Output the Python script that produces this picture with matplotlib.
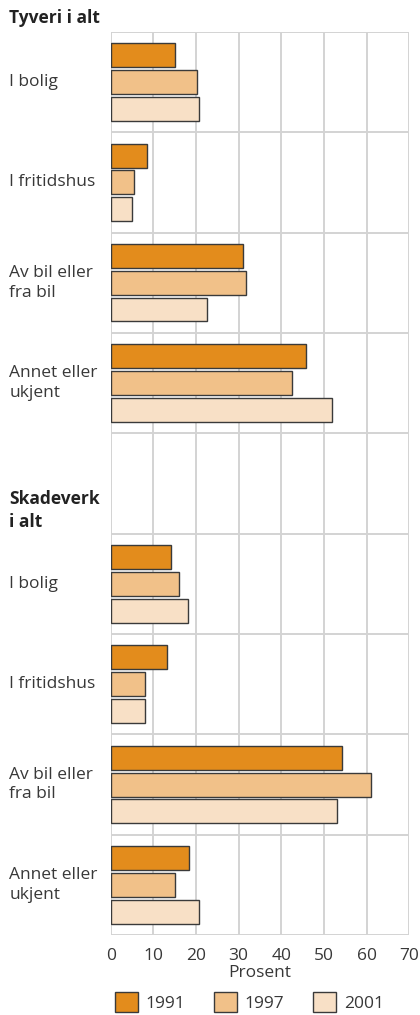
import matplotlib
matplotlib.use("Agg")
import matplotlib.pyplot as plt
import matplotlib.transforms as mtransforms
from matplotlib.patches import Patch
import numpy as np

plt.rcParams['font.family'] = ['Open Sans', 'DejaVu Sans']

# rader ovenfra og ned (None = overskriftsrad uten stolper)
categories = ['I bolig', 'I fritidshus', 'Av bil eller\nfra bil', 'Annet eller\nukjent',
              None,
              'I bolig', 'I fritidshus', 'Av bil eller\nfra bil', 'Annet eller\nukjent']
years = ['1991', '1997', '2001']
v1991 = [15.0, 8.4, 30.9, 45.9, np.nan, 14.2, 13.3, 54.3, 18.4]
v1997 = [20.3, 5.4, 31.8, 42.6, np.nan, 15.9, 8.0, 61.1, 15.1]
v2001 = [20.8, 4.9, 22.6, 51.8, np.nan, 18.2, 8.1, 53.1, 20.8]
headers = ['Tyveri i alt', 'Skadeverk\ni alt']
xticks = [0, 10, 20, 30, 40, 50, 60, 70]

colors = ['#e38c1c', '#f1c189', '#f8e0c6']
edge = '#3a3a3a'
txt = '#383838'
gridc = '#d3d3d3'
fs = 12.5

fig = plt.figure(figsize=(4.2, 10.15), dpi=100)
ax = fig.add_axes([0.2636, 0.0788, 0.7109, 0.8897])

n = len(categories)
centers = np.arange(n) + 0.5
bh = 0.239
step = 0.266
for i, vals in enumerate([v1991, v1997, v2001]):
    ax.barh(centers + (i - 1) * step, vals, height=bh, color=colors[i],
            edgecolor=edge, linewidth=1.0, zorder=3)

ax.set_xlim(0, 70)
ax.set_ylim(n, 0)
ax.set_xticks(xticks)
ax.set_yticks(np.arange(n + 1))
ax.set_yticklabels([])
ax.grid(True, color=gridc, linewidth=1.4, zorder=0)
for s in ax.spines.values():
    s.set_visible(False)
ax.tick_params(length=0, labelsize=fs, labelcolor=txt, pad=9)
ax.set_xlabel('Prosent', fontsize=fs, color=txt, labelpad=1)

trans = mtransforms.blended_transform_factory(ax.transAxes, ax.transData)
xl = -0.34
for c, lab in zip(centers, categories):
    if lab is None:
        continue
    ax.text(xl, c, lab, transform=trans, ha='left', va='center',
            fontsize=fs, color=txt, linespacing=1.3)
ax.text(xl, -0.14, headers[0], transform=trans, ha='left', va='center',
        fontsize=fs, color='#222222', fontweight='bold', clip_on=False)
ax.text(xl, 4.77, headers[1], transform=trans, ha='left', va='center',
        fontsize=fs, color='#222222', fontweight='bold', linespacing=1.3)

handles = [Patch(facecolor=colors[i], edgecolor=edge, linewidth=1.0, label=years[i])
           for i in range(3)]
fig.legend(handles=handles, loc='upper left', bbox_to_anchor=(115 / 420, 1 - 992 / 1015),
           ncol=3, frameon=False, fontsize=fs, handlelength=1.32, handleheight=1.4,
           columnspacing=1.65, handletextpad=0.45, borderpad=0, borderaxespad=0,
           labelcolor=txt)

fig.savefig('out.png', dpi=100)
